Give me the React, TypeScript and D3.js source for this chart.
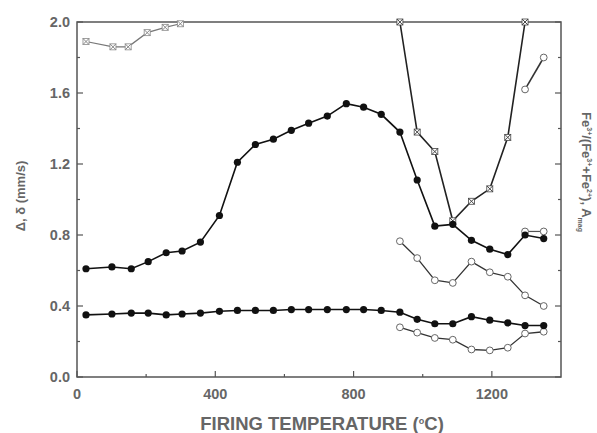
import React from "react";
import * as d3 from "d3";

const temps = [26,101,157,206,258,304,357,412,464,516,568,620,670,724,779,829,880,934,984,1035,1087,1141,1194,1246,1296,1350];
const quadSplit = [0.61,0.62,0.61,0.65,0.70,0.71,0.76,0.91,1.21,1.31,1.34,1.39,1.43,1.47,1.54,1.52,1.48,1.38,1.11,0.85,0.86,0.77,0.72,0.69,0.80,0.78];
const isomerShift = [0.35,0.355,0.36,0.36,0.35,0.355,0.36,0.37,0.375,0.375,0.375,0.38,0.38,0.38,0.38,0.38,0.375,0.365,0.325,0.30,0.30,0.34,0.32,0.305,0.29,0.29];

const hiTemps = [934,984,1035,1087,1141,1194,1246,1296,1350];
const fe3Ratio = [0.765,0.67,0.545,0.53,0.65,0.59,0.565,0.46,0.40];
const lowOpen = [0.28,0.25,0.22,0.21,0.155,0.15,0.165,0.245,0.255];

const endTemps = [1296,1350];
const endOpenA = [0.82,0.82];
const endOpenB = [1.62,1.80];

const amagTempsA = [26,104,148,203,255,299];
const amagA = [1.89,1.86,1.86,1.94,1.97,1.99];
const amagTempsB = [934,984,1035,1087,1141,1194,1246,1296];
const amagB = [2.0,1.38,1.27,0.88,0.99,1.06,1.35,2.0];

const xTicks = [0,400,800,1200];
const xMinor = [200,600,1000];
const yTicks = [0,0.4,0.8,1.2,1.6,2.0];
const yMinor = [0.2,0.6,1.0,1.4,1.8];

const W = 597, H = 433;
const L = 77, R = 561, T = 22, B = 377;

export default function App() {
  const x = d3.scaleLinear().domain([0, 1400]).range([L, R]);
  const y = d3.scaleLinear().domain([0, 2]).range([B, T]);
  const line = d3.line<[number, number]>().x(d => x(d[0])).y(d => y(d[1]));
  const zip = (a: number[], b: number[]) => a.map((v, i) => [v, b[i]] as [number, number]);

  const axisColor = "#555";
  const textColor = "#666";
  const font = "Liberation Sans, Arial, sans-serif";

  const filled = (pts: [number, number][], key: string) =>
    pts.map((p, i) => <circle key={key + i} cx={x(p[0])} cy={y(p[1])} r={3.6} fill="#111" />);
  const open = (pts: [number, number][], key: string) =>
    pts.map((p, i) => <circle key={key + i} cx={x(p[0])} cy={y(p[1])} r={3.4} fill="#fff" stroke="#666" strokeWidth={1} />);
  const cross = (pts: [number, number][], key: string, c: string) =>
    pts.map((p, i) => {
      const cx = x(p[0]), cy = y(p[1]), s = 3;
      return (
        <g key={key + i} stroke={c} strokeWidth={1}>
          <rect x={cx - s} y={cy - s} width={2 * s} height={2 * s} fill="#fff" stroke={c} strokeWidth={0.8} />
          <line x1={cx - s} y1={cy - s} x2={cx + s} y2={cy + s} />
          <line x1={cx - s} y1={cy + s} x2={cx + s} y2={cy - s} />
        </g>
      );
    });

  const qsPts = zip(temps, quadSplit);
  const isPts = zip(temps, isomerShift);
  const fePts = zip(hiTemps, fe3Ratio);
  const lowPts = zip(hiTemps, lowOpen);
  const eA = zip(endTemps, endOpenA);
  const eB = zip(endTemps, endOpenB);
  const aA = zip(amagTempsA, amagA);
  const aB = zip(amagTempsB, amagB);

  return (
    <svg width={W} height={H} style={{ position: "absolute", left: 0, top: 0, background: "#fff" }}>
      <defs>
        <clipPath id="plot"><rect x={L} y={T - 4} width={R - L} height={B - T + 4} /></clipPath>
      </defs>
      <rect x={L} y={T} width={R - L} height={B - T} fill="none" stroke={axisColor} strokeWidth={1.5} />
      {yTicks.map(t => (
        <g key={"yt" + t}>
          <line x1={L} x2={L + 6} y1={y(t)} y2={y(t)} stroke={axisColor} strokeWidth={1.2} />
          <line x1={R} x2={R - 6} y1={y(t)} y2={y(t)} stroke={axisColor} strokeWidth={1.2} />
          <text x={L - 7} y={y(t) + 5} textAnchor="end" fontFamily={font} fontSize={14.5} fontWeight="bold" fill={textColor}>{t.toFixed(1)}</text>
        </g>
      ))}
      {yMinor.map(t => (
        <g key={"ym" + t}>
          <line x1={L} x2={L + 3} y1={y(t)} y2={y(t)} stroke={axisColor} strokeWidth={1.2} />
          <line x1={R} x2={R - 3} y1={y(t)} y2={y(t)} stroke={axisColor} strokeWidth={1.2} />
        </g>
      ))}
      {xTicks.map(t => (
        <g key={"xt" + t}>
          <line x1={x(t)} x2={x(t)} y1={B} y2={B - 6} stroke={axisColor} strokeWidth={1.2} />
          <text x={x(t)} y={B + 22} textAnchor="middle" fontFamily={font} fontSize={14.5} fontWeight="bold" fill={textColor}>{t}</text>
        </g>
      ))}
      {xMinor.map(t => (
        <line key={"xm" + t} x1={x(t)} x2={x(t)} y1={B} y2={B - 3} stroke={axisColor} strokeWidth={1.2} />
      ))}
      <text x={322} y={430} textAnchor="middle" fontFamily={font} fontSize={18.5} fill={textColor} fontWeight="bold">
        FIRING TEMPERATURE (<tspan dy={-6} fontSize={9}>o</tspan><tspan dy={6}>C)</tspan>
      </text>
      <text transform={`translate(25,196) rotate(-90)`} textAnchor="middle" fontFamily={font} fontSize={13} fill={textColor} fontWeight="bold">
        Δ, δ (mm/s)
      </text>
      <text transform={`translate(582,172) rotate(90)`} textAnchor="middle" fontFamily={font} fontSize={13} fill={textColor} fontWeight="bold">
        Fe<tspan dy={-5} fontSize={7}>3+</tspan><tspan dy={5}>/(Fe</tspan><tspan dy={-5} fontSize={7}>3+</tspan><tspan dy={5}>+Fe</tspan><tspan dy={-5} fontSize={7}>2+</tspan><tspan dy={5}>), A</tspan><tspan dy={4} fontSize={7}>mag</tspan>
      </text>
      <g clipPath="url(#plot)">
        <path d={line(aA) || ""} fill="none" stroke="#777" strokeWidth={1.2} />
        <path d={line(aB) || ""} fill="none" stroke="#222" strokeWidth={1.6} />
        <path d={line(fePts) || ""} fill="none" stroke="#333" strokeWidth={1.3} />
        <path d={line(lowPts) || ""} fill="none" stroke="#333" strokeWidth={1.3} />
        <path d={line(eA) || ""} fill="none" stroke="#555" strokeWidth={1.2} />
        <path d={line(eB) || ""} fill="none" stroke="#333" strokeWidth={1.6} />
        <path d={line(qsPts) || ""} fill="none" stroke="#111" strokeWidth={1.6} />
        <path d={line(isPts) || ""} fill="none" stroke="#111" strokeWidth={1.6} />
        {cross(aA, "aa", "#888")}
        {cross(aB, "ab", "#444")}
        {open(fePts, "fe")}
        {open(lowPts, "lo")}
        {open(eA, "ea")}
        {open(eB, "eb")}
        {filled(qsPts, "qs")}
        {filled(isPts, "is")}
      </g>
    </svg>
  );
}
